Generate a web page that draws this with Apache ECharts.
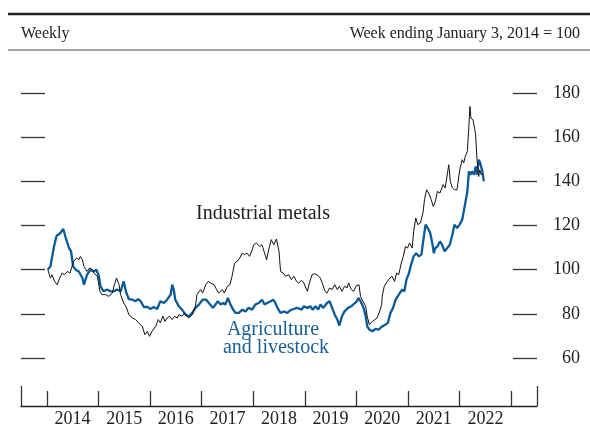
<!DOCTYPE html>
<html><head><meta charset="utf-8">
<script src="https://cdn.jsdelivr.net/npm/echarts@6/dist/echarts.min.js"></script>
<style>html,body{margin:0;padding:0;background:#fff}#c{width:590px;height:428px}</style>
</head><body><div id="c"></div>
<script>
// Weekly index, week ending January 3, 2014 = 100 (dates as decimal years)
const metalsDates = [2014.02,2014.07,2014.10,2014.15,2014.20,2014.25,2014.30,2014.34,2014.40,2014.45,2014.49,2014.52,2014.58,2014.62,2014.65,2014.69,2014.72,2014.78,2014.83,2014.88,2014.91,2014.98,
2015.03,2015.07,2015.14,2015.20,2015.27,2015.31,2015.35,2015.40,2015.43,2015.49,2015.54,2015.59,2015.66,2015.72,2015.78,2015.85,2015.90,2015.95,2015.99,
2016.04,2016.11,2016.16,2016.20,2016.25,2016.29,2016.33,2016.38,2016.43,2016.48,2016.53,2016.56,2016.62,2016.67,2016.75,2016.82,2016.88,2016.91,2016.98,
2017.02,2017.08,2017.13,2017.17,2017.24,2017.29,2017.33,2017.40,2017.44,2017.50,2017.55,2017.59,2017.64,2017.69,2017.74,2017.79,2017.83,2017.88,2017.93,2017.98,
2018.01,2018.06,2018.13,2018.17,2018.21,2018.26,2018.30,2018.35,2018.40,2018.45,2018.50,2018.53,2018.58,2018.63,2018.69,2018.74,2018.79,2018.84,2018.88,2018.94,2018.98,
2019.05,2019.09,2019.14,2019.19,2019.26,2019.30,2019.35,2019.39,2019.43,2019.48,2019.53,2019.58,2019.63,2019.67,2019.72,2019.77,2019.82,2019.85,2019.90,2019.95,2019.99,
2020.05,2020.08,2020.11,2020.14,2020.18,2020.21,2020.25,2020.31,2020.36,2020.40,2020.45,2020.49,2020.50,2020.54,2020.60,2020.65,2020.69,2020.74,2020.78,2020.82,2020.87,2020.91,2020.95,2020.99,
2021.03,2021.08,2021.11,2021.15,2021.19,2021.24,2021.29,2021.32,2021.36,2021.40,2021.45,2021.49,2021.53,2021.57,2021.62,2021.68,2021.72,2021.77,2021.79,2021.82,2021.86,2021.90,2021.95,2021.98,
2022.01,2022.05,2022.08,2022.11,2022.15,2022.18,2022.20,2022.22,2022.26,2022.29,2022.31,2022.34,2022.37,2022.39,2022.42,2022.44];
const metalsValues = [100,96.2,97.7,94.7,93.2,96.2,98.5,97.7,99.2,98.5,101.5,103.8,105.3,104.5,106,104.5,101.5,99.2,100.8,100,98.5,97,
90.2,88.7,88.7,87.9,89.4,93.2,96.2,93.2,88.7,84.9,83.1,79.6,78.1,77.4,75.9,74.3,70.6,72.1,69.8,
72.1,74.3,77.4,75.9,78.9,76.6,78.1,78.9,77.4,78.9,78.1,79.6,78.9,80.4,78.1,79.6,83.4,88.7,91,
89.4,93.2,94.7,94,93.2,91,89.4,91,89.4,92.5,93.2,97,103,103.8,105.3,107.5,106.8,107.5,106,109,
111.3,112,110.5,111.3,108.3,104.5,109,113.6,111.3,113.9,108.3,99.2,98.5,97,97.7,95.5,97,94.7,94,95.2,94,
90.2,94,97.7,98.2,97.3,96.2,93.2,90.2,89.4,91.7,91,93.2,91,92.5,90.2,92.5,91.7,94,91,90.2,92.5,
93.2,87.9,86.4,85.7,83.4,78.9,75.1,76.6,77.4,78.1,81.1,84.2,87.9,92.5,94.7,96.2,97,94.7,98.5,97.7,103,106,110.5,109.8,
112.1,109.8,117.3,123.4,120.4,121.1,125.7,131.7,136.2,134.7,131.7,128.6,130.9,135.4,134.7,138.5,137,144.5,147.5,140,137,136.2,136.2,141.5,
146,149.8,148.3,151.3,153.5,164.8,173.9,168.6,167.9,164.1,161.1,149,142.2,145.2,143,143.7];

const agDates = [2014.02,2014.07,2014.14,2014.19,2014.25,2014.32,2014.36,2014.43,2014.47,2014.51,2014.56,2014.62,2014.69,2014.72,2014.78,2014.85,2014.91,2014.96,
2015.01,2015.04,2015.10,2015.17,2015.23,2015.30,2015.36,2015.43,2015.46,2015.49,2015.54,2015.59,2015.66,2015.72,2015.77,2015.82,2015.88,2015.95,
2016.01,2016.07,2016.14,2016.20,2016.27,2016.33,2016.40,2016.43,2016.46,2016.49,2016.56,2016.62,2016.69,2016.75,2016.82,2016.88,2016.95,
2017.02,2017.09,2017.14,2017.22,2017.27,2017.31,2017.37,2017.42,2017.46,2017.51,2017.56,2017.61,2017.66,2017.72,2017.79,2017.85,2017.91,2017.98,
2018.04,2018.11,2018.17,2018.22,2018.27,2018.34,2018.39,2018.43,2018.47,2018.53,2018.59,2018.66,2018.72,2018.78,2018.85,2018.94,2018.98,
2019.05,2019.11,2019.15,2019.21,2019.26,2019.30,2019.36,2019.43,2019.48,2019.53,2019.58,2019.63,2019.67,2019.72,2019.77,2019.84,2019.90,2019.97,
2020.01,2020.04,2020.08,2020.11,2020.14,2020.18,2020.21,2020.25,2020.31,2020.37,2020.43,2020.50,2020.56,2020.61,2020.66,2020.71,2020.76,2020.80,2020.84,2020.89,2020.93,2020.97,
2021.02,2021.06,2021.11,2021.16,2021.21,2021.26,2021.29,2021.34,2021.37,2021.40,2021.43,2021.47,2021.50,2021.53,2021.57,2021.62,2021.66,2021.71,2021.76,2021.81,2021.86,2021.90,2021.95,
2022.00,2022.05,2022.08,2022.11,2022.15,2022.18,2022.21,2022.24,2022.28,2022.31,2022.34,2022.37,2022.40,2022.44,2022.47];
const agValues = [100,101.5,110.5,115.4,116.3,118.4,115,109.8,108.3,101.5,100,99.2,96.2,93.2,97.7,100,99.2,100,
97,92.5,90.2,91,90.2,90.2,91,90.2,92.5,94.7,89.6,86.7,86.4,85.7,86.7,85.7,83.1,83.1,
82.2,83.1,82.2,85.7,84.9,86.4,88.7,93.2,91,86.4,83.4,81.9,79.6,78.9,80.4,82.7,84.2,
86.4,86.4,84.9,82.7,84.2,85.7,84.2,84.9,84.2,87.2,84.2,81.9,80.4,80.4,81.9,81.1,82.7,81.9,
84.2,84.9,86.4,84.2,84.9,85.7,86.4,84.9,82.7,80.4,81.1,80.4,81.6,82.2,82.7,81.9,83.4,
82.7,83.4,81.9,83.4,81.9,84.2,82.7,84.9,85.7,82.7,79.6,77.4,74.7,78.9,81.1,82.7,83.4,84.9,
85.7,87.2,85.7,84.2,82.7,78.9,74.3,72.9,72.1,73.2,72.9,74.3,75.1,75.9,80.4,82.7,86.4,87.9,89.4,91,90.2,95.5,
98.5,102.3,106,107.5,106,106.8,112.1,120.4,119.6,118.1,116.6,112.1,107.5,109.8,110.5,112.8,111.3,108.3,109.8,111.3,115.8,120.4,118.9,
120.4,122.6,126.4,130.2,135.4,144.5,143,144.5,143,146.7,143,149.8,148.3,144.5,140];

const yTicks = [60, 80, 100, 120, 140, 160, 180];
const yearTicks = [2014, 2015, 2016, 2017, 2018, 2019, 2020, 2021, 2022, 2023];
const yearLabelPos = [2014.5, 2015.5, 2016.5, 2017.5, 2018.5, 2019.5, 2020.5, 2021.5, 2022.5];
const frameEnds = [2013.5, 2023.5];

const FONT = '"Liberation Serif", "DejaVu Serif", serif';
const pairs = (xs, ys) => xs.map((x, i) => [x, ys[i]]);

// layout: plot spans y 50..406, 180 at y=93, 60 at y=358
const gTop = 50, gBottom = 22;
const pxPerUnit = (358 - 93) / 120;
const yMax = 180 + (93 - gTop) / pxPerUnit;
const yMin = 60 - (406 - 358) / pxPerUnit;

const tickStyle = { color: '#333', width: 1.3 };

const chart = echarts.init(document.getElementById('c'), null, { renderer: 'canvas' });
chart.setOption({
  animation: false,
  backgroundColor: '#fff',
  grid: { left: 21, right: 53, top: gTop, bottom: gBottom, containLabel: false },
  xAxis: [
    {
      type: 'value', min: 2013.5, max: 2023.5, position: 'bottom',
      splitLine: { show: false },
      axisLine: { show: true, lineStyle: { color: '#222', width: 1.3 } },
      axisTick: { show: true, inside: true, length: 15, customValues: yearTicks, lineStyle: tickStyle },
      axisLabel: { customValues: yearLabelPos, formatter: v => String(Math.floor(v)), margin: 4,
        fontFamily: FONT, fontSize: 18, color: '#222' }
    },
    {
      type: 'value', min: 2013.5, max: 2023.5, position: 'bottom',
      splitLine: { show: false },
      axisLine: { show: false },
      axisTick: { show: true, inside: true, length: 20, customValues: frameEnds, lineStyle: tickStyle },
      axisLabel: { show: false }
    }
  ],
  yAxis: [
    {
      type: 'value', min: yMin, max: yMax, position: 'left',
      splitLine: { show: false }, axisLine: { show: false },
      axisTick: { show: true, inside: true, length: 24, customValues: yTicks, lineStyle: tickStyle },
      axisLabel: { show: false }
    },
    {
      type: 'value', min: yMin, max: yMax, position: 'right',
      splitLine: { show: false }, axisLine: { show: false },
      axisTick: { show: true, inside: true, length: 24, customValues: yTicks, lineStyle: tickStyle },
      axisLabel: { show: true, customValues: yTicks, margin: 43, align: 'right',
        fontFamily: FONT, fontSize: 18, color: '#222' }
    }
  ],
  series: [
    {
      name: 'Agriculture and livestock', type: 'line', xAxisIndex: 0, yAxisIndex: 0,
      data: pairs(agDates, agValues), showSymbol: false, smooth: false,
      lineStyle: { color: '#0a5a97', width: 2.3 }, itemStyle: { color: '#0a5a97' }
    },
    {
      name: 'Industrial metals', type: 'line', xAxisIndex: 0, yAxisIndex: 0,
      data: pairs(metalsDates, metalsValues), showSymbol: false, smooth: false,
      lineStyle: { color: '#111', width: 1 }, itemStyle: { color: '#111' }
    }
  ],
  graphic: [
    { type: 'line', shape: { x1: 8, y1: 14, x2: 590, y2: 14 }, style: { stroke: '#222', lineWidth: 2.5 } },
    { type: 'line', shape: { x1: 8, y1: 50, x2: 590, y2: 50 }, style: { stroke: '#888', lineWidth: 1.5 } },
    { type: 'text', style: { x: 21, y: 34, text: 'Weekly', font: '16px ' + FONT, fill: '#222', align: 'left', verticalAlign: 'middle' } },
    { type: 'text', style: { x: 580, y: 34, text: 'Week ending January 3, 2014 = 100', font: '16px ' + FONT, fill: '#222', align: 'right', verticalAlign: 'middle' } },
    { type: 'text', style: { x: 263, y: 214, text: 'Industrial metals', font: '20px ' + FONT, fill: '#222', align: 'center', verticalAlign: 'middle' } },
    { type: 'text', style: { x: 273, y: 330, text: 'Agriculture', font: '20px ' + FONT, fill: '#1a5f96', align: 'center', verticalAlign: 'middle' } },
    { type: 'text', style: { x: 276, y: 348, text: 'and livestock', font: '20px ' + FONT, fill: '#1a5f96', align: 'center', verticalAlign: 'middle' } }
  ]
});
</script></body></html>
